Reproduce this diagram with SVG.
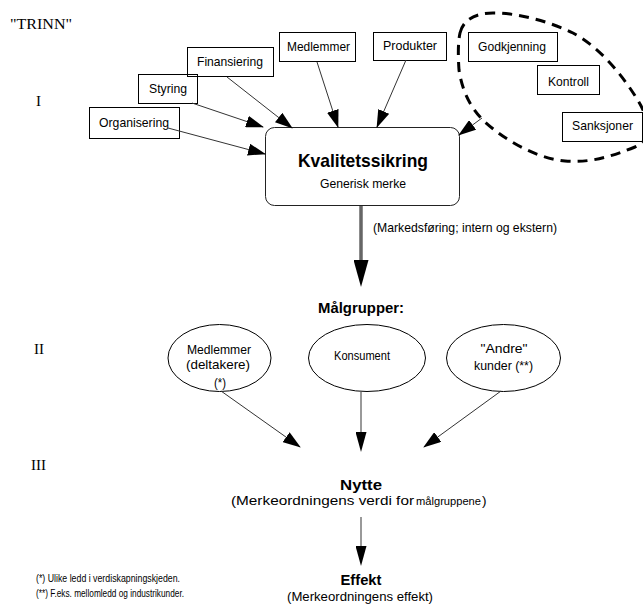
<svg xmlns="http://www.w3.org/2000/svg" width="643" height="606" viewBox="0 0 643 606">
<defs>
<style>
text{font-family:"Liberation Sans",Arial,sans-serif;fill:#000}
.l{font-size:13.5px;text-anchor:middle}
.st{font-size:13.5px}
.b{font-weight:bold;text-anchor:middle}
.r{font-family:"Liberation Serif","Times New Roman",serif;font-size:15px}
.box{fill:none;stroke:#000;stroke-width:1}
.ell{fill:none;stroke:#000;stroke-width:1}
.ln{stroke:#333;stroke-width:1;fill:none}
</style>
<marker id="ah" markerUnits="userSpaceOnUse" markerWidth="18" markerHeight="12" refX="17" refY="6" orient="auto"><path d="M0,0 L18,6 L0,12 z" fill="#000"/></marker>
<marker id="nar" markerUnits="userSpaceOnUse" markerWidth="20" markerHeight="11" refX="1" refY="5.5" orient="auto"><path d="M0,0 L20,5.5 L0,11 z" fill="#000"/></marker>
<marker id="big" markerUnits="userSpaceOnUse" markerWidth="27" markerHeight="15" refX="1" refY="7.5" orient="auto"><path d="M0,0 L27,7.5 L0,15 z" fill="#000"/></marker>
</defs>
<rect width="643" height="606" fill="#fff"/>

<g id="stages">
<text class="r" x="10" y="29" textLength="62" lengthAdjust="spacingAndGlyphs">"TRINN"</text>
<text class="r" x="36" y="106">I</text>
<text class="r" x="34" y="354">II</text>
<text class="r" x="31" y="470">III</text>
</g>

<g id="organisering"><rect class="box" x="89.5" y="107.5" width="90" height="31"/><text class="l" x="134" y="127" textLength="70" lengthAdjust="spacingAndGlyphs">Organisering</text></g>
<g id="styring"><rect class="box" x="138.5" y="74.5" width="59" height="29"/><text class="l" x="168" y="93" textLength="38" lengthAdjust="spacingAndGlyphs">Styring</text></g>
<g id="finansiering"><rect class="box" x="187.5" y="47.5" width="86" height="29"/><text class="l" x="230" y="66" textLength="66" lengthAdjust="spacingAndGlyphs">Finansiering</text></g>
<g id="medlemmer"><rect class="box" x="279.5" y="32.5" width="76" height="29"/><text class="l" x="318.5" y="51" textLength="63" lengthAdjust="spacingAndGlyphs">Medlemmer</text></g>
<g id="produkter"><rect class="box" x="373.5" y="32.5" width="73" height="28"/><text class="l" x="410" y="50" textLength="54" lengthAdjust="spacingAndGlyphs">Produkter</text></g>
<g id="godkjenning"><rect class="box" x="468.5" y="32.5" width="89" height="29"/><text class="l" x="512" y="51" textLength="68" lengthAdjust="spacingAndGlyphs">Godkjenning</text></g>
<g id="kontroll"><rect class="box" x="537.5" y="65.5" width="62" height="29"/><text class="l" x="568.5" y="86" textLength="41" lengthAdjust="spacingAndGlyphs">Kontroll</text></g>
<g id="sanksjoner"><rect class="box" x="562.5" y="112.5" width="80" height="29"/><text class="l" x="602.5" y="130" textLength="61" lengthAdjust="spacingAndGlyphs">Sanksjoner</text></g>

<g id="kontrollsone"><path d="M460,33 C463,20 475,13 493,13 C520,13 550,22 573,33 C600,47 625,78 640,104 C650,122 652,140 635,147 C610,157 590,163 565,161 C535,158 505,140 485,122 C470,108 462,90 459,70 C458,55 458,42 460,33 Z" fill="none" stroke="#000" stroke-width="3" stroke-dasharray="10 7"/></g>

<g id="kvalitetssikring"><rect x="265.5" y="127.5" width="194" height="78" rx="9" ry="9" fill="none" stroke="#222" stroke-width="1"/>
<text class="b" x="363" y="167" style="font-size:19px" textLength="130" lengthAdjust="spacingAndGlyphs">Kvalitetssikring</text>
<text class="l" x="363" y="188" textLength="86" lengthAdjust="spacingAndGlyphs">Generisk merke</text></g>

<g id="malgrupper"><text class="b" x="361" y="313" style="font-size:15.5px" textLength="86" lengthAdjust="spacingAndGlyphs">Målgrupper:</text></g>

<g id="medlemmer-gruppe"><ellipse class="ell" cx="219.5" cy="358" rx="51.5" ry="33.5"/>
<text class="l" x="219" y="354" textLength="64" lengthAdjust="spacingAndGlyphs">Medlemmer</text>
<text class="l" x="218" y="369" textLength="64" lengthAdjust="spacingAndGlyphs">(deltakere)</text>
<text class="l" x="220" y="387" textLength="12" lengthAdjust="spacingAndGlyphs">(*)</text></g>
<g id="konsument"><ellipse class="ell" cx="367" cy="358" rx="58.5" ry="33.5"/>
<text class="l" x="362" y="360" textLength="56" lengthAdjust="spacingAndGlyphs">Konsument</text></g>
<g id="andre"><ellipse class="ell" cx="503.5" cy="358" rx="57" ry="33.5"/>
<text class="l" x="504" y="353" textLength="47" lengthAdjust="spacingAndGlyphs">"Andre"</text>
<text class="l" x="503.5" y="370" textLength="59" lengthAdjust="spacingAndGlyphs">kunder (**)</text></g>

<g id="nytte"><text class="b" x="361" y="490" style="font-size:15.5px" textLength="42" lengthAdjust="spacingAndGlyphs">Nytte</text>
<text class="st" x="231" y="505" textLength="183" lengthAdjust="spacingAndGlyphs">(Merkeordningens verdi for </text>
<text x="416" y="505" style="font-size:11px" textLength="65" lengthAdjust="spacingAndGlyphs">målgruppene</text>
<text class="st" x="482" y="505">)</text></g>

<g id="effekt"><text class="b" x="361" y="585" style="font-size:15px" textLength="41" lengthAdjust="spacingAndGlyphs">Effekt</text>
<text class="l" x="360" y="601" style="font-size:13px" textLength="146" lengthAdjust="spacingAndGlyphs">(Merkeordningens effekt)</text></g>

<g id="fotnoter">
<text x="36" y="582" style="font-size:11px" textLength="144" lengthAdjust="spacingAndGlyphs">(*) Ulike ledd i verdiskapningskjeden.</text>
<text x="36" y="597" style="font-size:11px" textLength="148" lengthAdjust="spacingAndGlyphs">(**) F.eks. mellomledd og industrikunder.</text>
</g>

<g id="connectors">
<line class="ln" x1="168" y1="128" x2="265" y2="154" marker-end="url(#ah)"/>
<line class="ln" x1="192" y1="103" x2="263" y2="127" marker-end="url(#ah)"/>
<line class="ln" x1="227" y1="77" x2="292" y2="128" marker-end="url(#ah)"/>
<line class="ln" x1="317" y1="62" x2="338" y2="127" marker-end="url(#ah)"/>
<line class="ln" x1="406" y1="60" x2="377" y2="127" marker-end="url(#ah)"/>
<line class="ln" x1="482" y1="118" x2="459" y2="135" marker-end="url(#ah)"/>
<line x1="361" y1="206" x2="361" y2="261" stroke="#666" stroke-width="3.5" marker-end="url(#big)"/>
<text class="st" x="373" y="232" textLength="184" lengthAdjust="spacingAndGlyphs">(Markedsføring; intern og ekstern)</text>
<line class="ln" x1="221" y1="391" x2="300" y2="447" marker-end="url(#ah)"/>
<line x1="361" y1="392" x2="361" y2="433" stroke="#555" stroke-width="1.2" marker-end="url(#nar)"/>
<line class="ln" x1="501" y1="391" x2="424" y2="447" marker-end="url(#ah)"/>
<line x1="361" y1="517" x2="361" y2="547" stroke="#555" stroke-width="1.2" marker-end="url(#nar)"/>
</g>
</svg>
